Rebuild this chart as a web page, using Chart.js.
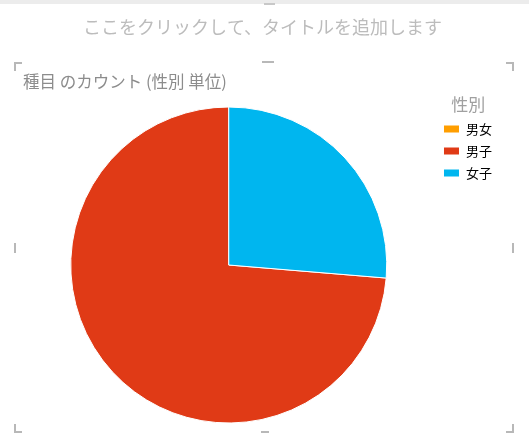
<!DOCTYPE html>
<html>
<head>
<meta charset="utf-8">
<script src="https://cdn.jsdelivr.net/npm/chart.js@4.4.1/dist/chart.umd.min.js"></script>
<style>
  body { margin: 0; background: #fff; }
  #wrap { width: 529px; height: 435px; }
</style>
</head>
<body>
<div id="wrap"><canvas id="myChart" width="529" height="435"></canvas></div>
<script>
// categories and counts
const categories = ["男女", "男子", "女子"];
const counts = [0, 14, 5];
const sliceColors = ["#FF9E00", "#E03A16", "#00B6EF"];

const chartTitle = "ここをクリックして、タイトルを追加します";
const subTitle = "種目 のカウント (性別 単位)";
const legendTitle = "性別";

const jpFont = "'Noto Sans CJK JP', 'Noto Sans', sans-serif";

// Excel starts the 女子 slice at 12 o'clock, so turn the pie by its share
let total = 0;
for (let i = 0; i < counts.length; i++) {
  total += counts[i];
}
const startAngle = 360 * counts[2] / total;

// grey selection handles round the plot area
const handlesPlugin = {
  id: "handles",
  beforeDraw(chart) {
    const c = chart.ctx;
    c.save();
    c.fillStyle = "#ececec";
    c.fillRect(0, 0, chart.width, 4);
    c.fillStyle = "#c8c8c8";
    c.fillRect(264, 3, 11, 2);
    c.restore();
  },
  afterDraw(chart) {
    const c = chart.ctx;
    c.save();
    c.fillStyle = "#b8b8b8";
    // corners
    c.fillRect(14, 62, 2, 9);
    c.fillRect(14, 62, 8, 2);
    c.fillRect(512, 62, 2, 9);
    c.fillRect(506, 62, 8, 2);
    c.fillRect(14, 424, 2, 9);
    c.fillRect(14, 431, 8, 2);
    c.fillRect(512, 424, 2, 9);
    c.fillRect(506, 431, 8, 2);
    // middles
    c.fillRect(262, 61, 12, 2);
    c.fillRect(261, 431, 8, 2);
    c.fillRect(14, 243, 2, 10);
    c.fillRect(512, 243, 2, 10);
    c.restore();
  }
};

let ctx = document.getElementById("myChart");
let myChart = new Chart(ctx, {
  type: "pie",
  data: {
    labels: categories,
    datasets: [
      {
        data: counts,
        backgroundColor: sliceColors,
        borderColor: "#ffffff",
        borderWidth: 1,
        radius: 158
      }
    ]
  },
  options: {
    responsive: false,
    animation: false,
    rotation: startAngle,
    layout: {
      padding: { top: 0, left: 23, right: 27, bottom: 0 }
    },
    plugins: {
      title: {
        display: true,
        text: chartTitle,
        color: "#bcbcbc",
        font: { family: jpFont, size: 18, weight: "normal", lineHeight: 1.2 },
        padding: { top: 16.7, bottom: 0 }
      },
      subtitle: {
        display: true,
        text: subTitle,
        align: "start",
        color: "#8c8c8c",
        font: { family: jpFont, size: 16.5, weight: "normal", lineHeight: 1.2 },
        padding: { top: 33.8, bottom: 3.1 }
      },
      legend: {
        position: "right",
        align: "start",
        fullSize: false,
        title: {
          display: true,
          text: legendTitle,
          color: "#a0a0a0",
          font: { family: jpFont, size: 17, lineHeight: 1 },
          padding: { top: 1.5, bottom: 0 }
        },
        labels: {
          boxWidth: 16,
          boxHeight: 8,
          padding: 9,
          color: "#000000",
          font: { family: jpFont, size: 13 }
        }
      },
      tooltip: { enabled: false }
    }
  },
  plugins: [handlesPlugin]
});
</script>
</body>
</html>
